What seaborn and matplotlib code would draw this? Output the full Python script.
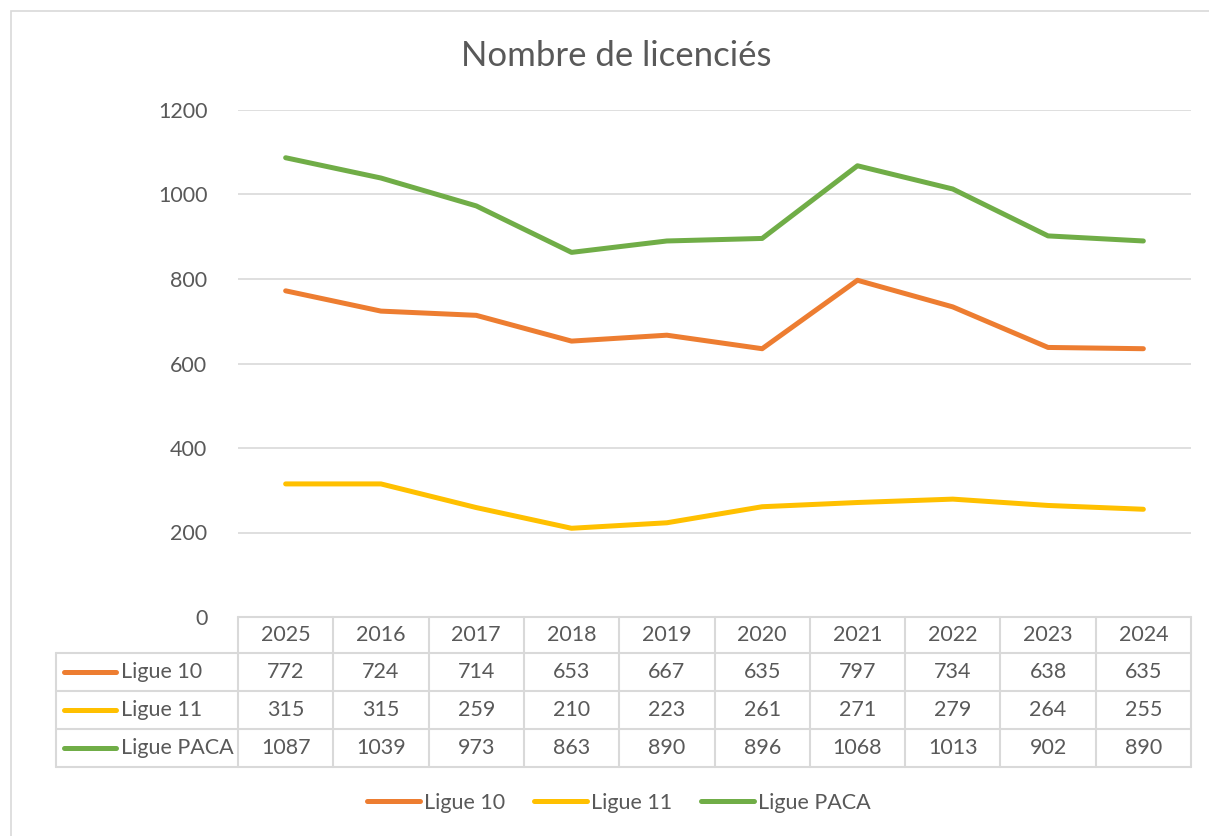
import pandas as pd
import seaborn as sns
import matplotlib
matplotlib.use('Agg')
import matplotlib.pyplot as plt
import matplotlib.transforms as mtransforms
from matplotlib.lines import Line2D
from matplotlib.patches import Rectangle

years = ['2025', '2016', '2017', '2018', '2019', '2020', '2021', '2022', '2023', '2024']
ligue_10 = [772, 724, 714, 653, 667, 635, 797, 734, 638, 635]
ligue_11 = [315, 315, 259, 210, 223, 261, 271, 279, 264, 255]
ligue_paca = [1087, 1039, 973, 863, 890, 896, 1068, 1013, 902, 890]
series_names = ['Ligue 10', 'Ligue 11', 'Ligue PACA']
series_values = [ligue_10, ligue_11, ligue_paca]
colors = {'Ligue 10': '#ED7D31', 'Ligue 11': '#FFC000', 'Ligue PACA': '#70AD47'}

rows = []
for name, vals in zip(series_names, series_values):
    for y, v in zip(years, vals):
        rows.append({'Année': y, 'Licenciés': v, 'Ligue': name})
df = pd.DataFrame(rows)

sns.set_style('white')
plt.rcParams['font.family'] = ['Lato', 'DejaVu Sans']
txt = '#595959'
grid_c = '#d9d9d9'

W, H = 1209, 836
fig = plt.figure(figsize=(W / 100, H / 100), dpi=100)

def fx(px):
    return px / W

def fy(py):
    return 1 - py / H

# outer chart frame
fig.add_artist(Rectangle((fx(11), fy(836 + 20)), fx(1209), fy(11) - fy(856),
                         transform=fig.transFigure, fill=False, edgecolor=grid_c, lw=1.2))

left, right, top, bottom = 238, 1191, 110, 617
ax = fig.add_axes([fx(left), fy(bottom), fx(right - left), fy(top) - fy(bottom)])

sns.lineplot(data=df, x='Année', y='Licenciés', hue='Ligue', palette=colors,
             linewidth=3.6, sort=False, legend=False, ax=ax,
             solid_capstyle='round')

ax.set_xlim(-0.5, len(years) - 0.5)
ax.set_ylim(0, 1200)
ax.set_yticks(range(0, 1201, 200))
ax.yaxis.grid(True, color=grid_c, lw=1.2)
ax.set_axisbelow(True)
for s in ax.spines.values():
    s.set_visible(False)
ax.set_xticks([])
ax.set_xlabel('')
ax.set_ylabel('')
ax.tick_params(axis='y', length=0, pad=22, labelsize=15.5, labelcolor=txt)

fig.text(fx(616), fy(56), 'Nombre de licenciés', ha='center', va='center',
         fontsize=25, color=txt)

# data table below the plot
tr = mtransforms.blended_transform_factory(ax.transData, fig.transFigure)
line_kw = dict(transform=fig.transFigure, color=grid_c, lw=1.5)
row_y = [617, 653, 691, 729, 767]
fig.add_artist(Line2D([fx(left), fx(right)], [fy(617)] * 2, **line_kw))
for yy in row_y[1:]:
    fig.add_artist(Line2D([fx(56), fx(right)], [fy(yy)] * 2, **line_kw))
col_w = (right - left) / len(years)
for k in range(len(years) + 1):
    xx = left + k * col_w
    fig.add_artist(Line2D([fx(xx)] * 2, [fy(617), fy(767)], **line_kw))
fig.add_artist(Line2D([fx(56)] * 2, [fy(653), fy(767)], **line_kw))

for i, y in enumerate(years):
    ax.text(i, fy(635), y, transform=tr, ha='center', va='center', fontsize=15.5, color=txt)
for r, (name, vals) in enumerate(zip(series_names, series_values)):
    cy = 0.5 * (row_y[r + 1] + row_y[r + 2])
    fig.add_artist(Line2D([fx(64), fx(116)], [fy(cy)] * 2, transform=fig.transFigure,
                          color=colors[name], lw=3.6, solid_capstyle='round'))
    fig.text(fx(121), fy(cy), name, ha='left', va='center', fontsize=15.5, color=txt)
    for i, v in enumerate(vals):
        ax.text(i, fy(cy), str(v), transform=tr, ha='center', va='center',
                fontsize=15.5, color=txt)

# legend at the bottom
handles = [Line2D([0], [0], color=colors[n], lw=3.6, solid_capstyle='round') for n in series_names]
fig.legend(handles, series_names, loc='center', bbox_to_anchor=(fx(619), fy(803)),
           ncol=3, frameon=False, fontsize=15.5, labelcolor=txt, handlelength=2.45,
           handletextpad=0.2, columnspacing=1.35)

fig.savefig('out.png', dpi=100)
